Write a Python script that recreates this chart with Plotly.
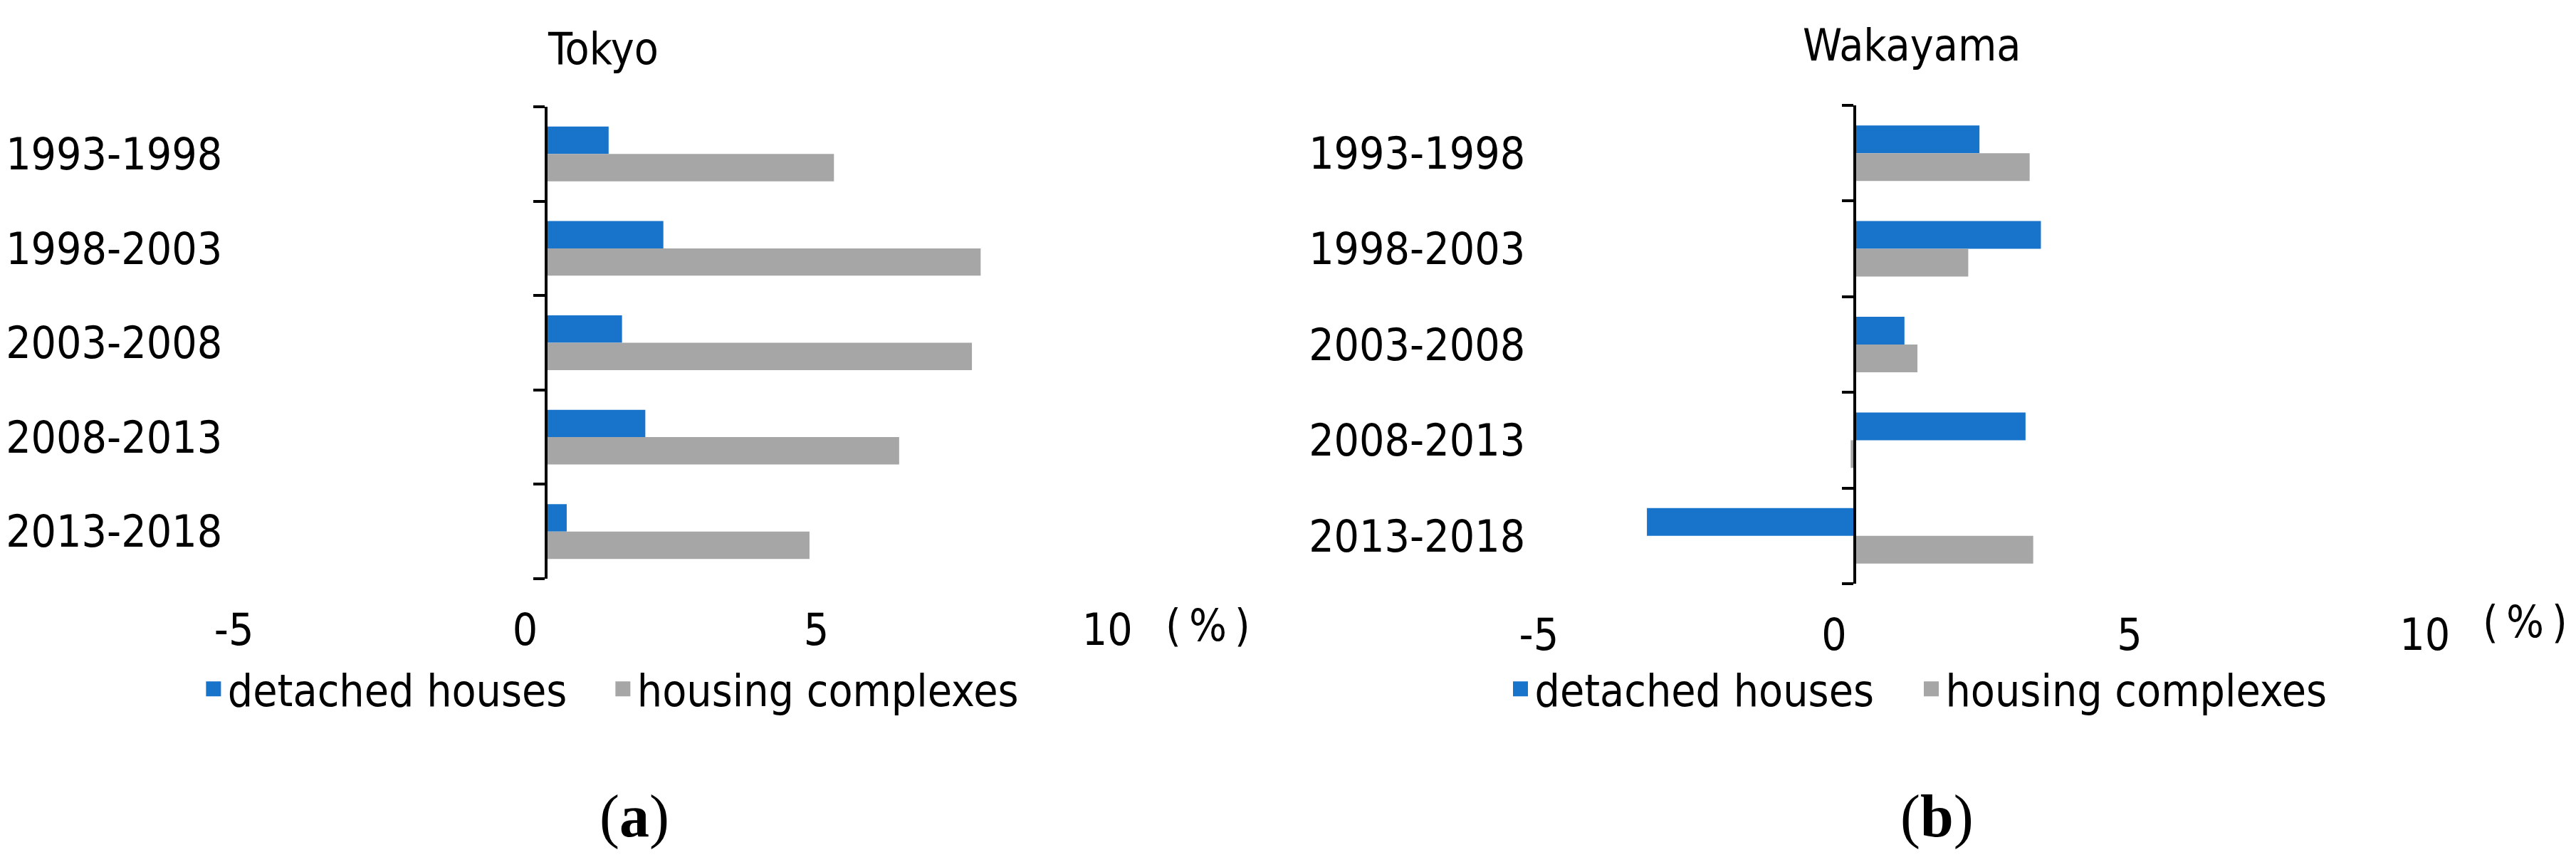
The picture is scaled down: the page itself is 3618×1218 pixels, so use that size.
import plotly.graph_objects as go

# ---------------- data ----------------
categories = ["1993-1998", "1998-2003", "2003-2008", "2008-2013", "2013-2018"]
tokyo_detached = [1.08, 2.02, 1.31, 1.71, 0.36]
tokyo_complexes = [4.95, 7.47, 7.32, 6.07, 4.53]
wakayama_detached = [2.11, 3.15, 0.84, 2.89, -3.52]
wakayama_complexes = [2.96, 1.92, 1.06, -0.07, 3.02]
series_names = ["detached houses", "housing complexes"]
x_ticks = [-5, 0, 5, 10]
x_ticktext = ["-5", "0", "5", "10"]
panel_titles = ["Tokyo", "Wakayama"]
panel_captions = ["a", "b"]
unit_label = "(\u2009%\u2009)"

# ---------------- style ----------------
W, H = 3618, 1218
OFF = 8  # default page body margin of the html page
BLUE = "#1874CB"
GRAY = "#A6A6A6"
FONT = "Liberation Sans Narrow, DejaVu Sans Condensed, Arial Narrow, sans-serif"
FS = 62


def px_x(p):
    return (p - OFF) / W


def px_y(p):
    return 1 - (p - OFF) / H


pos = list(range(len(categories)))
bounds = [p - 0.5 for p in pos] + [pos[-1] + 0.5]

# panel geometry in (screen) pixels
panels = [
    dict(axis_px=741, ppu=82.5, xr=[-5.3, 10.5], top=150, bottom=813, standoff=20,
         leg_x=250, entry=530, title_x=822, title_y=69, pct_x=1679, pct_y=878, cap_x=867),
    dict(axis_px=2596, ppu=83.7, xr=[-5.4, 10.3], top=148, bottom=820, standoff=14,
         leg_x=2102, entry=532, title_x=2677, title_y=64, pct_x=3546, pct_y=873, cap_x=2712),
]
for p in panels:
    p["left"] = p["axis_px"] + p["xr"][0] * p["ppu"]
    p["right"] = p["axis_px"] + p["xr"][1] * p["ppu"]

fig = go.Figure()
data_sets = [(tokyo_detached, tokyo_complexes), (wakayama_detached, wakayama_complexes)]
colors = [BLUE, GRAY]

for i, (det, comp) in enumerate(data_sets):
    xa = "x" if i == 0 else "x2"
    ya = "y" if i == 0 else "y2"
    ya_line = "y3" if i == 0 else "y4"
    leg = "legend" if i == 0 else "legend2"
    for vals, name, col in zip((det, comp), series_names, colors):
        fig.add_trace(go.Bar(x=vals, y=pos, orientation="h", name=name,
                             marker=dict(color=col, line=dict(width=0)),
                             xaxis=xa, yaxis=ya, showlegend=False, hoverinfo="x+name"))
    # legend keys (square swatches)
    for name, col in zip(series_names, colors):
        fig.add_trace(go.Scatter(x=[None], y=[None], mode="markers", name=name,
                                 marker=dict(symbol="square", size=16, color=col,
                                             line=dict(color=col, width=5)),
                                 xaxis=xa, yaxis=ya, legend=leg, showlegend=True))
    # invisible trace so the vertical axis (line at zero) is rendered
    fig.add_trace(go.Scatter(x=det, y=pos, mode="markers", marker=dict(opacity=0),
                             xaxis=xa, yaxis=ya_line, showlegend=False, hoverinfo="skip"))

layout = dict(
    width=W, height=H,
    margin=dict(l=0, r=0, t=0, b=0),
    paper_bgcolor="white", plot_bgcolor="white",
    barmode="group", bargap=0.42, bargroupgap=0,
    font=dict(family=FONT, size=FS, color="black"),
    showlegend=True,
)

annotations = []
for i, p in enumerate(panels):
    sx = "" if i == 0 else "2"
    sy = "" if i == 0 else "2"
    sline = "3" if i == 0 else "4"
    dom_x = [px_x(p["left"]), px_x(p["right"])]
    dom_y = [px_y(p["bottom"]), px_y(p["top"])]
    layout["xaxis" + sx] = dict(
        domain=dom_x, range=p["xr"], anchor="y" + sy,
        tickmode="array", tickvals=x_ticks, ticktext=x_ticktext,
        showgrid=False, zeroline=False, showline=False, ticks="",
        ticklabelstandoff=30, ticklabelshift=-29,
        tickfont=dict(size=FS, family=FONT), fixedrange=True,
    )
    layout["yaxis" + sy] = dict(
        domain=dom_y, range=[len(categories) - 0.5, -0.5], anchor="x" + sx,
        tickmode="array", tickvals=pos, ticktext=categories,
        showgrid=False, zeroline=False, showline=False, ticks="",
        ticklabelstandoff=p["standoff"], tickfont=dict(size=FS, family=FONT),
        fixedrange=True,
    )
    layout["yaxis" + sline] = dict(
        overlaying="y" + sy, anchor="free", position=px_x(p["axis_px"]), side="left",
        range=[len(categories) - 0.5, -0.5],
        tickmode="array", tickvals=bounds, showticklabels=False,
        ticks="outside", ticklen=16, tickwidth=4, tickcolor="black",
        showline=True, linewidth=4, linecolor="black",
        showgrid=False, zeroline=False, fixedrange=True,
    )
    layout["legend" + ("" if i == 0 else "2")] = dict(
        orientation="h", x=px_x(p["leg_x"]), xanchor="left",
        y=px_y(968), yanchor="middle",
        entrywidth=p["entry"], entrywidthmode="pixels",
        font=dict(size=FS, family=FONT), bgcolor="rgba(0,0,0,0)",
        traceorder="normal", itemsizing="trace",
    )
    annotations.append(dict(text=panel_titles[i], x=px_x(p["title_x"]), y=px_y(p["title_y"]),
                            xref="paper", yref="paper", showarrow=False,
                            xanchor="center", yanchor="middle",
                            font=dict(size=FS, family=FONT)))
    annotations.append(dict(text=unit_label, x=px_x(p["pct_x"]), y=px_y(p["pct_y"]),
                            xref="paper", yref="paper", showarrow=False,
                            xanchor="center", yanchor="middle",
                            font=dict(size=FS, family=FONT)))
    annotations.append(dict(text="(<b>" + panel_captions[i] + "</b>)", x=px_x(p["cap_x"]), y=px_y(1147),
                            xref="paper", yref="paper", showarrow=False,
                            xanchor="center", yanchor="middle",
                            font=dict(size=84, family="Liberation Serif, Times New Roman, serif")))

layout["annotations"] = annotations
fig.update_layout(**layout)

fig.write_html("out.html")
